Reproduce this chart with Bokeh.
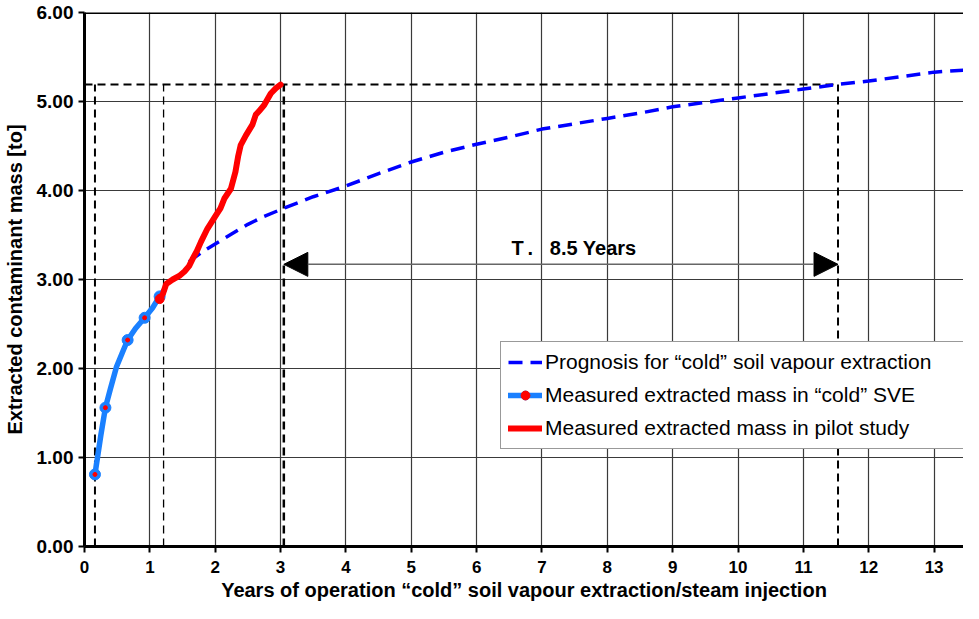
from bokeh.plotting import figure
from bokeh.models import (Range1d, FixedTicker, NumeralTickFormatter, Span, Arrow, NormalHead,
                          Label, Legend, LegendItem)
from bokeh.embed import file_html
from bokeh.resources import INLINE

# ---- data ----
prog_years = [1.6, 1.8, 2.0, 2.25, 2.5, 2.75, 3.05, 3.5, 4.0, 4.5, 5.0, 5.5, 6.0, 6.5, 7.0, 7.5,
              8.0, 8.5, 9.0, 9.5, 10.0, 10.5, 11.0, 11.5, 12.0, 12.5, 13.0, 13.6]
prog_mass = [3.20, 3.31, 3.40, 3.51, 3.62, 3.71, 3.80, 3.93, 4.05, 4.19, 4.32, 4.43, 4.52, 4.60,
             4.69, 4.75, 4.81, 4.87, 4.94, 4.99, 5.04, 5.09, 5.14, 5.19, 5.23, 5.28, 5.33, 5.36]

sve_line_years = [0.16, 0.25, 0.32, 0.40, 0.49, 0.58, 0.66, 0.78, 0.92, 1.04, 1.15, 1.22]
sve_line_mass = [0.81, 1.25, 1.56, 1.78, 2.02, 2.18, 2.32, 2.45, 2.57, 2.68, 2.81, 2.88]
sve_meas_years = [0.16, 0.32, 0.66, 0.92, 1.15]
sve_meas_mass = [0.81, 1.56, 2.32, 2.57, 2.81]

pilot_years = [1.15, 1.20, 1.25, 1.35, 1.45, 1.53, 1.60, 1.66, 1.72, 1.78, 1.88, 2.01, 2.08, 2.14,
               2.24, 2.31, 2.35, 2.39, 2.47, 2.57, 2.62, 2.68, 2.75, 2.85, 2.93, 3.00]
pilot_mass = [2.78, 2.84, 2.95, 3.00, 3.04, 3.09, 3.15, 3.24, 3.32, 3.42, 3.57, 3.72, 3.80, 3.91,
              4.02, 4.21, 4.38, 4.51, 4.62, 4.74, 4.85, 4.90, 4.96, 5.09, 5.15, 5.19]

ref_years = [0.16, 1.21, 3.05, 11.53]
ref_widths = [2, 1.3, 2.5, 2]
ref_mass = 5.19
arrow_from, arrow_to, arrow_level = 3.05, 11.53, 3.17
span_label = "T\u2009.\u00a0\u00a0\u00a08.5 Years"
span_label_pos = (7.49, 3.35)

x_ticks = list(range(0, 14))
y_ticks = [0, 1, 2, 3, 4, 5, 6]

FONT = "Liberation Sans"

p = figure(width=963, height=603, output_backend="svg", toolbar_location=None,
           x_range=Range1d(0, 13.45), y_range=Range1d(0, 6),
           min_border_left=0, min_border_right=0, min_border_top=12, min_border_bottom=0)
p.outline_line_color = None
p.background_fill_color = "white"

# grid
for g in (p.xgrid, p.ygrid):
    g.grid_line_color = "#3a3a3a"
    g.grid_line_width = 1.2
p.xaxis.ticker = FixedTicker(ticks=x_ticks)
p.yaxis.ticker = FixedTicker(ticks=y_ticks)
p.yaxis.formatter = NumeralTickFormatter(format="0.00")
for ax in (p.xaxis, p.yaxis):
    ax.axis_line_width = 3
    ax.axis_line_color = "black"
    ax.major_tick_line_width = 2
    ax.major_tick_line_color = "black"
    ax.major_tick_out = 6
    ax.major_tick_in = 0
    ax.minor_tick_line_color = None
    ax.major_label_text_font = FONT
    ax.major_label_text_font_style = "bold"
    ax.major_label_text_color = "black"
    ax.axis_label_text_font = FONT
    ax.axis_label_text_font_style = "bold"
    ax.axis_label_text_font_size = "20px"
    ax.axis_label_text_color = "black"
p.xaxis.major_label_text_font_size = "17px"
p.yaxis.major_label_text_font_size = "19px"
p.xaxis.major_label_standoff = 8
p.xaxis.axis_label_standoff = 3
p.yaxis.major_label_standoff = 5
p.yaxis.axis_label_standoff = 8
p.xaxis.axis_label = "Years of operation \u201ccold\u201d soil vapour extraction/steam injection"
p.yaxis.axis_label = "Extracted contaminant mass [to]"

# top border
p.add_layout(Span(location=6, dimension="width", line_color="black", line_width=3))

# reference dashed lines
for xv, w in zip(ref_years, ref_widths):
    p.segment(x0=[xv], y0=[0], x1=[xv], y1=[ref_mass], line_color="black", line_width=w,
              line_dash="8 5")
p.segment(x0=[0], y0=[ref_mass], x1=[max(ref_years)], y1=[ref_mass], line_color="black",
          line_width=2, line_dash="8 5")

# arrow
p.add_layout(Arrow(x_start=arrow_from, x_end=arrow_to, y_start=arrow_level, y_end=arrow_level,
                   line_color="#666666", line_width=1.5,
                   start=NormalHead(size=24, fill_color="black", line_color="black"),
                   end=NormalHead(size=24, fill_color="black", line_color="black")))
p.add_layout(Label(x=span_label_pos[0], y=span_label_pos[1], text=span_label,
                   text_font=FONT, text_font_style="bold", text_font_size="20px",
                   text_color="black", text_align="center", text_baseline="middle"))

# series
r_prog = p.line(prog_years, prog_mass, line_color="#0000ff", line_width=3.5, line_dash="14 8")
r_sve = p.line(sve_line_years, sve_line_mass, line_color="#1a80ff", line_width=5.5,
               line_join="round", line_cap="round")
r_sve_m = p.scatter(sve_meas_years, sve_meas_mass, size=11, fill_color="#1a80ff",
                    line_color="#1a80ff")
r_sve_d = p.scatter(sve_meas_years, sve_meas_mass, size=4, fill_color="red", line_color="red")
r_pilot = p.line(pilot_years, pilot_mass, line_color="#ff0000", line_width=6,
                 line_join="round", line_cap="round")
r_pilot_m = p.scatter(pilot_years[:1], pilot_mass[:1], size=9, fill_color="red", line_color="red")

legend = Legend(items=[
    LegendItem(label="Prognosis for \u201ccold\u201d soil vapour extraction", renderers=[r_prog]),
    LegendItem(label="Measured extracted mass in \u201ccold\u201d SVE", renderers=[r_sve, r_sve_m, r_sve_d]),
    LegendItem(label="Measured extracted mass in pilot study", renderers=[r_pilot]),
], location=(416, 97))
legend.label_text_font = FONT
legend.label_text_font_size = "21px"
legend.label_text_color = "black"
legend.label_standoff = 3
legend.label_width = 412
legend.glyph_width = 34
legend.glyph_height = 22
legend.label_height = 26
legend.spacing = 7
legend.padding = 7
legend.margin = 0
legend.border_line_color = "#333333"
legend.border_line_width = 1.2
legend.background_fill_alpha = 1
p.add_layout(legend)

open("out.html", "w").write(file_html(p, INLINE))
